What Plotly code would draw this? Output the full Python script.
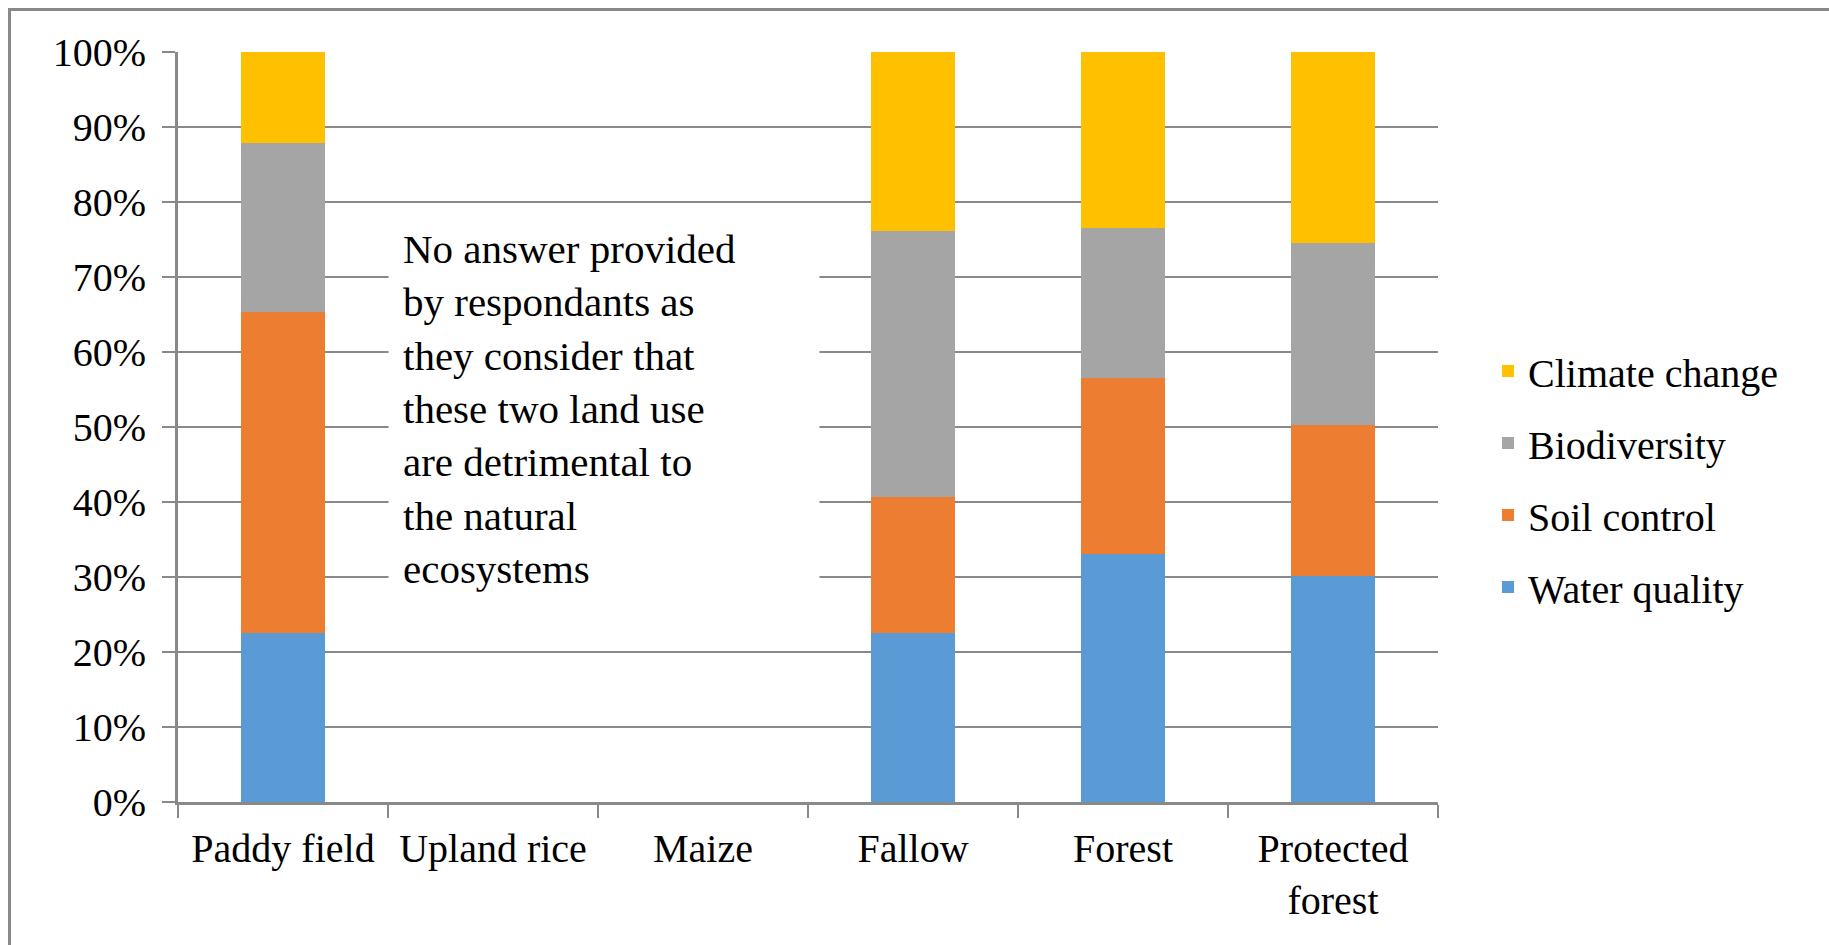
import plotly.graph_objects as go

# ---- data (percent of respondents) ----
categories = ["Paddy field", "Upland rice", "Maize", "Fallow", "Forest", "Protected<br>forest"]
water_quality = [22.6, None, None, 22.5, 33.1, 30.2]
soil_control = [42.7, None, None, 18.2, 23.4, 20.1]
biodiversity = [22.6, None, None, 35.4, 20.0, 24.3]
climate_change = [12.1, None, None, 23.9, 23.5, 25.4]
y_ticks = [0, 10, 20, 30, 40, 50, 60, 70, 80, 90, 100]
y_tick_labels = ["0%", "10%", "20%", "30%", "40%", "50%", "60%", "70%", "80%", "90%", "100%"]
note_text = ("No answer provided<br>by respondants as<br>they consider that<br>"
             "these two land use<br>are detrimental to<br>the natural<br>ecosystems")

series = [
    ("Water quality", water_quality, "#5B9BD5"),
    ("Soil control", soil_control, "#ED7D31"),
    ("Biodiversity", biodiversity, "#A5A5A5"),
    ("Climate change", climate_change, "#FFC000"),
]

W, H = 1829, 945
ML, MR, MT, MB = 178, 391, 52, 143
PW, PH = W - ML - MR, H - MT - MB
FONT = "Liberation Serif"
GRID = "#898989"

def px_x(p):
    return (p - ML) / PW

def px_y(p):
    return (H - MB - p) / PH

fig = go.Figure()
n = len(series)
for i, (name, vals, color) in enumerate(series):
    fig.add_trace(go.Bar(
        name=name, x=categories, y=vals, width=0.4,
        marker=dict(color=color, line=dict(width=0)),
        legendgroup=name,
        legendrank=n - i,
    ))

fig.update_layout(
    width=W, height=H,
    margin=dict(l=ML, r=MR, t=MT, b=MB, pad=0),
    barmode="stack",
    paper_bgcolor="white", plot_bgcolor="white",
    font=dict(family=FONT, size=40, color="black"),
    showlegend=True,
    legend=dict(
        x=px_x(1488), xanchor="left",
        y=px_y(479), yanchor="middle",
        traceorder="grouped",
        tracegroupgap=17,
        font=dict(family=FONT, size=40, color="black"),
        bgcolor="rgba(0,0,0,0)",
    ),
    bargap=0.6,
)

fig.update_xaxes(
    type="category", categoryorder="array", categoryarray=categories,
    range=[-0.5, len(categories) - 0.5],
    showline=True, linecolor=GRID, linewidth=3,
    ticks="outside", tickson="boundaries", ticklen=13, tickwidth=2, tickcolor=GRID,
    showgrid=False, zeroline=False,
    tickfont=dict(family=FONT, size=40, color="black"),
    ticklabelstandoff=9,
    fixedrange=True,
)
fig.update_yaxes(
    range=[0, 100],
    tickvals=y_ticks, ticktext=y_tick_labels,
    showline=True, linecolor=GRID, linewidth=3,
    ticks="outside", ticklen=13, tickwidth=2, tickcolor=GRID,
    showgrid=True, gridcolor=GRID, gridwidth=2,
    zeroline=False,
    tickfont=dict(family=FONT, size=40, color="black"),
    ticklabelstandoff=8,
    fixedrange=True,
)

fig.add_annotation(
    xref="x", yref="y", x=0.5, y=78.8,
    xanchor="left", yanchor="top",
    text=note_text, showarrow=False, align="left",
    font=dict(family=FONT, size=41, color="black"),
    bgcolor="white", borderpad=14, width=402,
)

# chart-area border (only top and left edges visible in the cropped original)
fig.add_shape(type="line", xref="paper", yref="paper",
              x0=px_x(9), x1=px_x(W + 5), y0=px_y(9.5), y1=px_y(9.5),
              line=dict(color=GRID, width=3), layer="above")
fig.add_shape(type="line", xref="paper", yref="paper",
              x0=px_x(9.5), x1=px_x(9.5), y0=px_y(8), y1=px_y(H + 5),
              line=dict(color=GRID, width=3), layer="above")

fig.write_html("out.html", config={"displayModeBar": False},
               post_script="document.body.style.margin='0';")
